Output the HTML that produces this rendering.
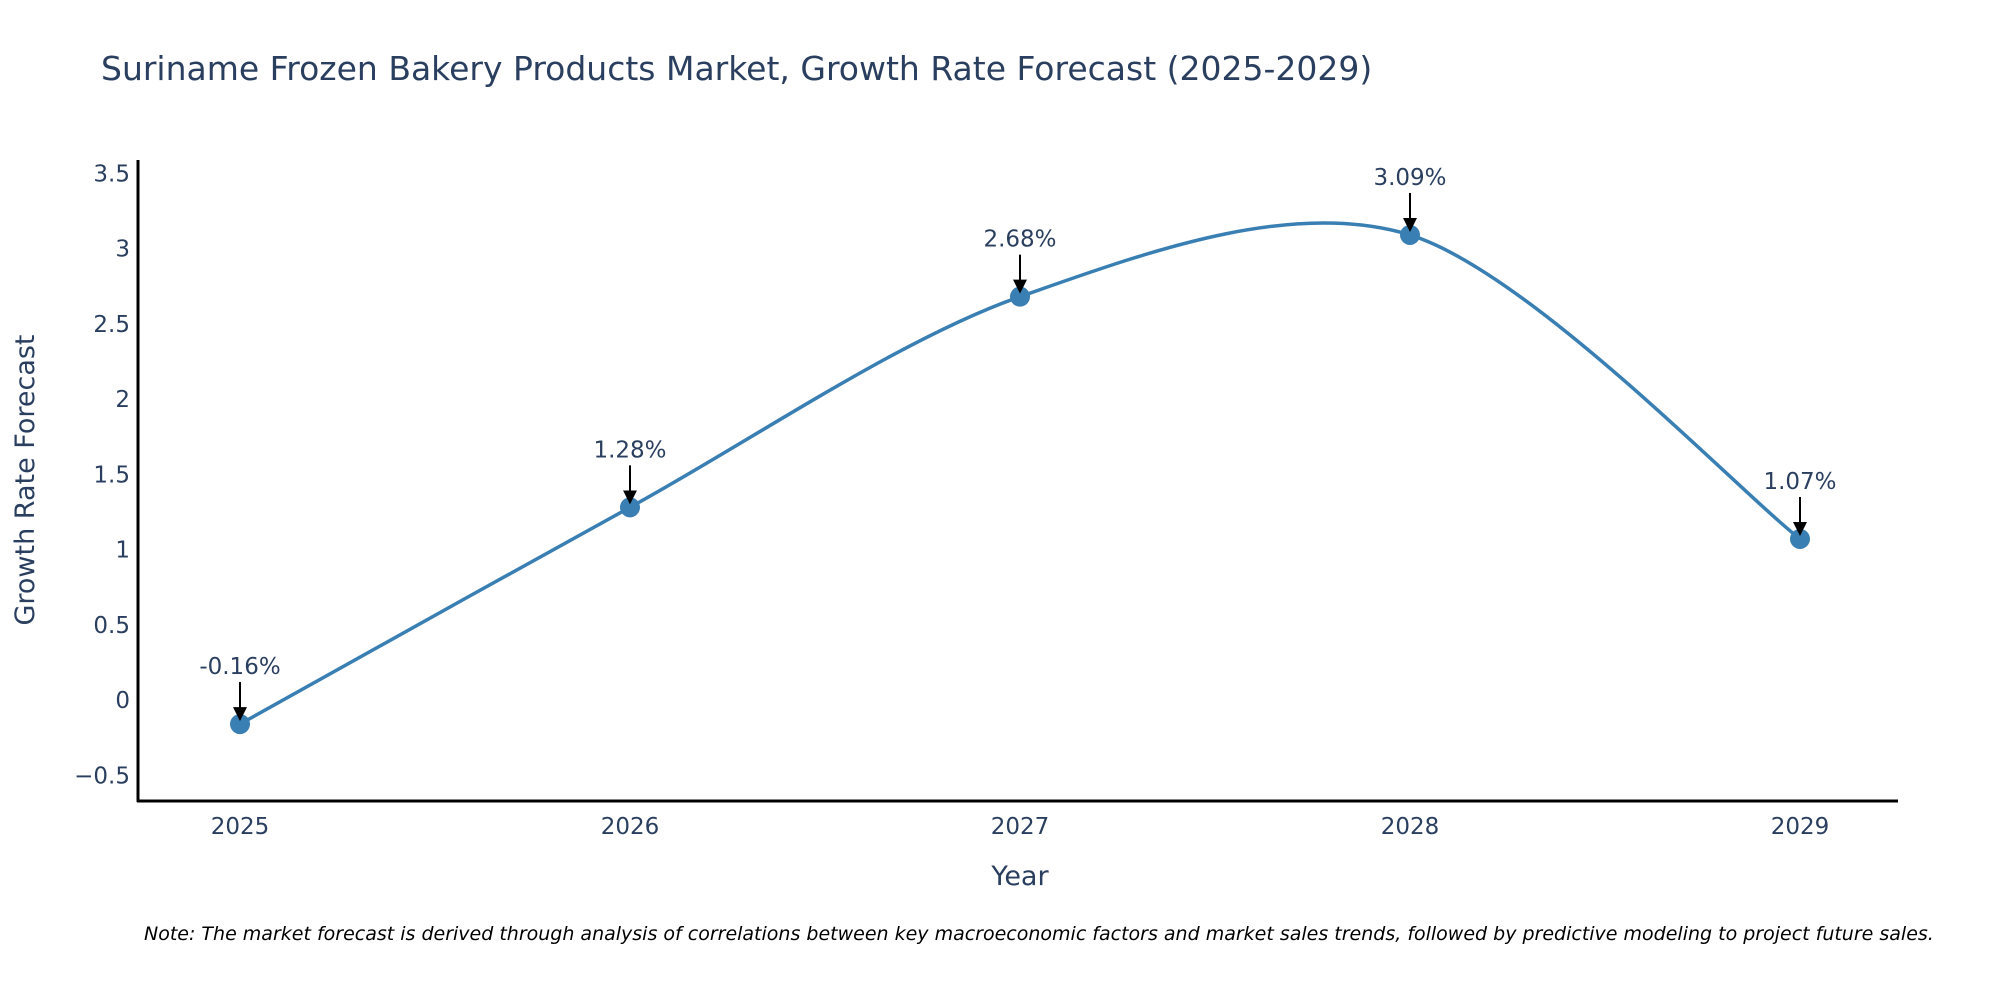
<!DOCTYPE html>
<html><head><meta charset="utf-8"><style>
html,body{margin:0;padding:0;background:#fff;}
svg text{font-family:"DejaVu Sans","Liberation Sans",sans-serif;}
</style></head><body>
<svg id="chart" width="2000" height="1000" xmlns="http://www.w3.org/2000/svg">
<rect width="2000" height="1000" fill="#fff"/>
<text x="101" y="80" font-size="33" fill="#2a3f5f">Suriname Frozen Bakery Products Market, Growth Rate Forecast (2025-2029)</text>
<g id="yticks"></g>
<g id="xticks"></g>
<line x1="138" y1="160" x2="138" y2="802" stroke="#000" stroke-width="3"/>
<line x1="137" y1="801" x2="1898" y2="801" stroke="#000" stroke-width="3"/>
<text transform="translate(34,480) rotate(-90)" text-anchor="middle" font-size="27" fill="#2a3f5f">Growth Rate Forecast</text>
<text x="1020" y="885" text-anchor="middle" font-size="27" fill="#2a3f5f">Year</text>
<g id="series"></g>
<text x="144" y="940" font-size="19" font-style="italic" fill="#000">Note: The market forecast is derived through analysis of correlations between key macroeconomic factors and market sales trends, followed by predictive modeling to project future sales.</text>
<defs><marker id="ah" markerWidth="14" markerHeight="14" refX="12" refY="7" orient="auto" markerUnits="userSpaceOnUse"><path d="M0,0 L14,7 L0,14 z" fill="#000"/></marker></defs>
</svg>
<script>
const years = [2025, 2026, 2027, 2028, 2029];
const values = [-0.16, 1.28, 2.68, 3.09, 1.07];
const labels = ["-0.16%", "1.28%", "2.68%", "3.09%", "1.07%"];
const yTickValues = [-0.5, 0, 0.5, 1, 1.5, 2, 2.5, 3, 3.5];
const yTickLabels = ["\u22120.5", "0", "0.5", "1", "1.5", "2", "2.5", "3", "3.5"];

const NS = "http://www.w3.org/2000/svg";
const xScale = y => 240 + (y - 2025) * 390;
const yScale = v => 700 - v * 150.5;
function mk(tag, attrs, parent, txt) {
  const e = document.createElementNS(NS, tag);
  for (const k in attrs) e.setAttribute(k, attrs[k]);
  if (txt !== undefined) e.textContent = txt;
  parent.appendChild(e); return e;
}
const yt = document.getElementById('yticks');
yTickValues.forEach((v, i) => {
  const t = mk('text', {x: 130, y: yScale(v) + 8, 'text-anchor': 'end', 'font-size': 23, fill: '#2a3f5f'}, yt, yTickLabels[i]);
  
  
});
const xt = document.getElementById('xticks');
years.forEach(y => {
  const t = mk('text', {x: xScale(y), y: 834, 'text-anchor': 'middle', 'font-size': 23, fill: '#2a3f5f'}, xt, String(y));
  
  
});
const g = document.getElementById('series');
const pts = years.map((y, i) => [xScale(y), yScale(values[i])]);
let d = `M${pts[0][0]},${pts[0][1]}`;
for (let i = 0; i < pts.length - 1; i++) {
  const p0 = pts[Math.max(0, i - 1)], p1 = pts[i], p2 = pts[i + 1], p3 = pts[Math.min(pts.length - 1, i + 2)];
  const k = 1 / 6.5;
  const c1 = [p1[0] + (p2[0] - p0[0]) * k, p1[1] + (p2[1] - p0[1]) * k];
  const c2 = [p2[0] - (p3[0] - p1[0]) * k, p2[1] - (p3[1] - p1[1]) * k];
  d += ` C${c1[0]},${c1[1]} ${c2[0]},${c2[1]} ${p2[0]},${p2[1]}`;
}
const line = mk('path', {d: d, fill: 'none', stroke: '#3a7fb3', 'stroke-width': 3.5}, g);


pts.forEach((p, i) => {
  const c = mk('circle', {cx: p[0], cy: p[1], r: 10, fill: '#3a7fb3'}, g);
  
  
  const a = mk('line', {x1: p[0], y1: p[1] - 42, x2: p[0], y2: p[1] - 5, stroke: '#000', 'stroke-width': 2, 'marker-end': 'url(#ah)'}, g);
  
  
  const t = mk('text', {x: p[0], y: p[1] - 50, 'text-anchor': 'middle', 'font-size': 23, fill: '#2a3f5f'}, g, labels[i]);
  
  
});
</script>
</body></html>
